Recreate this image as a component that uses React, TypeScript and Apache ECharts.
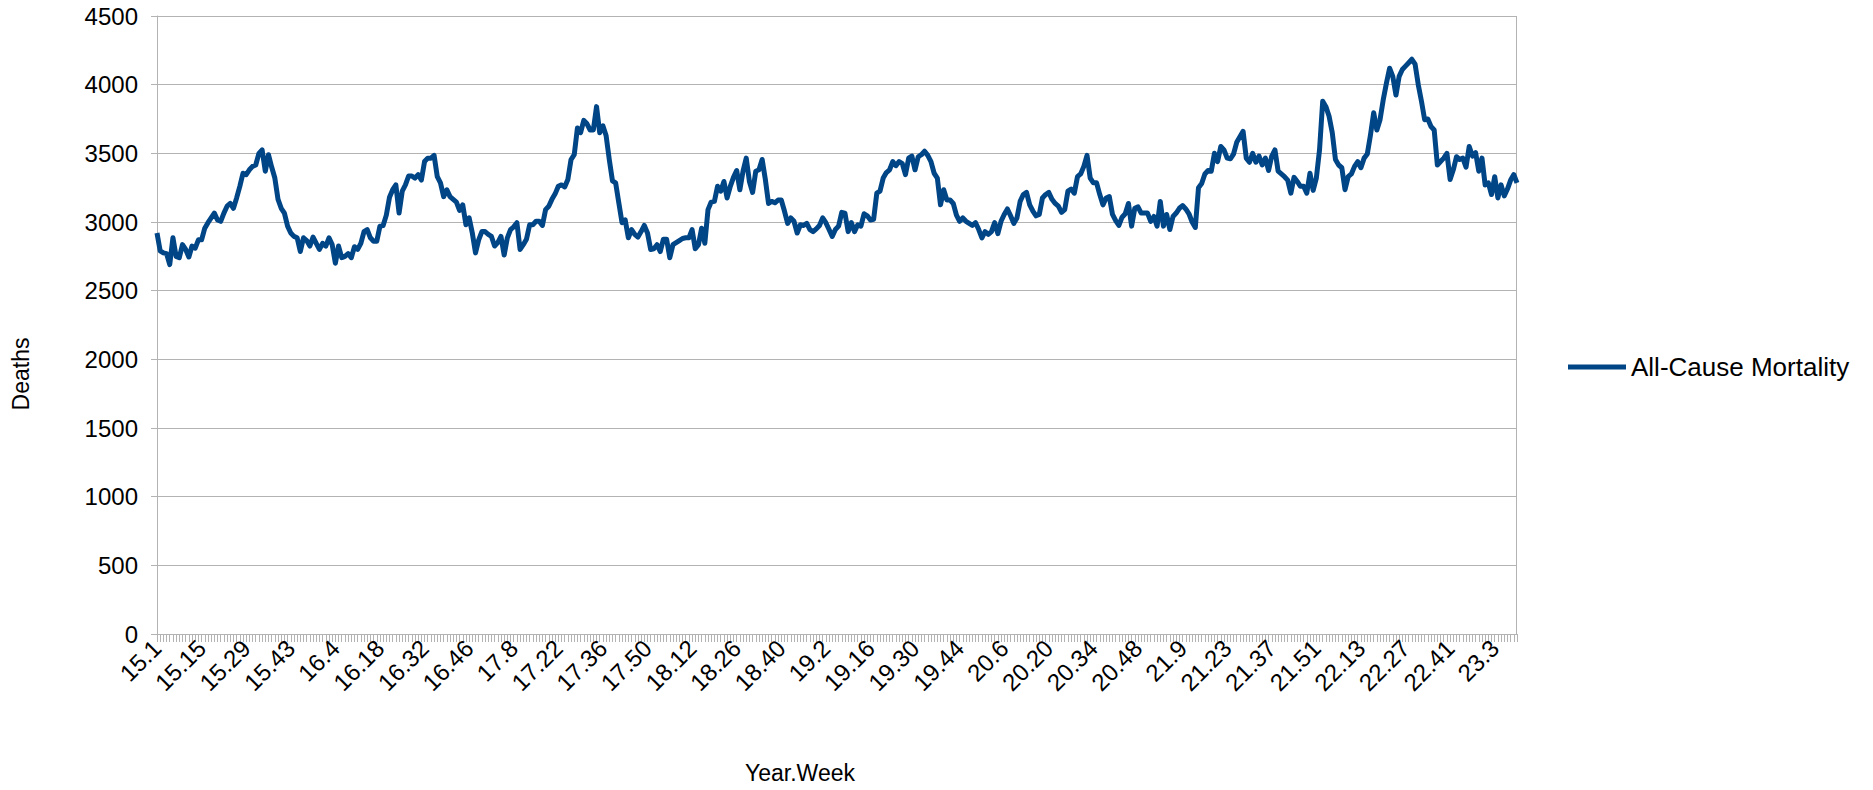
import React, { useEffect, useRef } from "react";
import * as echarts from "echarts";

// ISO weeks per year, 2015..2023 (2023 shown up to week 10)
const yearLabels = ["15", "16", "17", "18", "19", "20", "21", "22", "23"];
const weeksPerYear = [53, 52, 52, 52, 52, 53, 52, 52, 10];

const categories: string[] = [];
yearLabels.forEach((y, k) => {
  for (let w = 1; w <= weeksPerYear[k]; w++) categories.push(`${y}.${w}`);
});

const deaths2015 = [
  2920, 2790, 2775, 2770, 2690, 2885, 2750, 2740, 2835, 2800, 2745, 2825, 2810, 2870, 2870, 2955,
  2995, 3030, 3065, 3015, 3005, 3065, 3115, 3135, 3100, 3175, 3260, 3355, 3345, 3380, 3405, 3415,
  3500, 3525, 3370, 3490, 3400, 3320, 3165, 3100, 3065, 2970, 2920, 2895, 2885, 2785, 2885, 2865,
  2825, 2890, 2845, 2800, 2845,
];
const deaths2016 = [
  2825, 2885, 2835, 2700, 2825, 2740, 2750, 2770, 2740, 2820, 2800, 2845, 2930, 2945, 2885, 2860,
  2860, 2970, 2975, 3050, 3180, 3235, 3270, 3065, 3225, 3270, 3335, 3335, 3320, 3345, 3305, 3440,
  3465, 3465, 3485, 3330, 3285, 3185, 3235, 3185, 3165, 3145, 3085, 3125, 2980, 3030, 2920, 2775,
  2870, 2930, 2930, 2910,
];
const deaths2017 = [
  2895, 2825, 2850, 2895, 2760, 2885, 2945, 2965, 2995, 2800, 2835, 2875, 2980, 2980, 3005, 3005,
  2975, 3090, 3115, 3165, 3205, 3260, 3270, 3255, 3310, 3455, 3490, 3685, 3650, 3740, 3715, 3670,
  3670, 3840, 3650, 3700, 3630, 3455, 3300, 3285, 3140, 2995, 3015, 2885, 2945, 2910, 2890, 2930,
  2975, 2920, 2800, 2805,
];
const deaths2018 = [
  2835, 2785, 2875, 2875, 2740, 2835, 2850, 2865, 2880, 2885, 2885, 2945, 2805, 2835, 2955, 2845,
  3090, 3145, 3150, 3260, 3225, 3295, 3175, 3260, 3325, 3375, 3235, 3370, 3465, 3295, 3215, 3370,
  3380, 3455, 3310, 3135, 3150, 3140, 3160, 3160, 3080, 2990, 3030, 3005, 2920, 2980, 2975, 2990,
  2945, 2930, 2950, 2975,
];
const deaths2019 = [
  3030, 2995, 2945, 2895, 2945, 2970, 3070, 3065, 2930, 2995, 2930, 2980, 2970, 3060, 3045, 3015,
  3020, 3210, 3225, 3320, 3360, 3380, 3440, 3410, 3440, 3425, 3345, 3465, 3480, 3380, 3475, 3490,
  3515, 3485, 3440, 3355, 3320, 3125, 3235, 3160, 3160, 3135, 3050, 3005, 3030, 3005, 2990, 2975,
  2995, 2945, 2885, 2930,
];
const deaths2020 = [
  2910, 2930, 2995, 2915, 3005, 3055, 3095, 3045, 2990, 3030, 3150, 3200, 3215, 3125, 3080, 3045,
  3055, 3175, 3200, 3215, 3165, 3135, 3115, 3070, 3090, 3225, 3240, 3210, 3330, 3350, 3405, 3485,
  3320, 3285, 3285, 3200, 3125, 3175, 3185, 3055, 3010, 2975, 3035, 3060, 3135, 2970, 3100, 3110,
  3065, 3065, 3065, 3005, 3040,
];
const deaths2021 = [
  2970, 3150, 2970, 3055, 2945, 3040, 3065, 3100, 3120, 3095, 3060, 3000, 2960, 3250, 3280, 3350,
  3375, 3370, 3500, 3440, 3550, 3525, 3465, 3460, 3495, 3580, 3620, 3660, 3465, 3435, 3500, 3435,
  3480, 3415, 3465, 3375, 3480, 3525, 3370, 3350, 3330, 3305, 3210, 3325, 3295, 3260, 3260, 3210,
  3355, 3230, 3320, 3525,
];
const deaths2022 = [
  3880, 3840, 3770, 3650, 3455, 3415, 3395, 3235, 3330, 3350, 3405, 3440, 3395, 3465, 3495, 3635,
  3795, 3670, 3745, 3890, 4010, 4120, 4060, 3925, 4060, 4110, 4135, 4160, 4185, 4150, 4000, 3880,
  3745, 3750, 3695, 3670, 3415, 3440, 3465, 3500, 3310, 3380, 3475, 3455, 3465, 3400, 3550, 3480,
  3505, 3370, 3465, 3270,
];
const deaths2023 = [3285, 3200, 3330, 3175, 3270, 3190, 3240, 3305, 3345, 3285];

const allCauseMortality = [
  ...deaths2015, ...deaths2016, ...deaths2017, ...deaths2018, ...deaths2019,
  ...deaths2020, ...deaths2021, ...deaths2022, ...deaths2023,
];

const yTicks = { min: 0, max: 4500, interval: 500 };

const FONT = "'Liberation Sans', Arial, sans-serif";

export default function App() {
  const ref = useRef<HTMLDivElement>(null);
  useEffect(() => {
    if (!ref.current) return;
    const chart = echarts.init(ref.current, undefined, { renderer: "svg" });
    chart.setOption({
      animation: false,
      backgroundColor: "#ffffff",
      textStyle: { fontFamily: FONT, color: "#000" },
      grid: { left: 157, right: 356, top: 16, bottom: 156, containLabel: false },
      legend: {
        orient: "vertical",
        left: 1563,
        top: 349,
        itemWidth: 58,
        itemHeight: 5,
        itemGap: 10,
        icon: "rect",
        textStyle: { fontFamily: FONT, fontSize: 26, color: "#000" },
        data: ["All-Cause Mortality"],
      },
      xAxis: {
        type: "category",
        data: categories,
        boundaryGap: false,
        axisLine: { show: true, lineStyle: { color: "#b3b3b3", width: 1 } },
        axisTick: { show: true, interval: 0, length: 8, lineStyle: { color: "#b3b3b3" } },
        axisLabel: {
          interval: 13,
          rotate: 45,
          margin: 10,
          fontFamily: FONT,
          fontSize: 24,
          color: "#000",
        },
        splitLine: { show: false },
      },
      yAxis: {
        type: "value",
        min: yTicks.min,
        max: yTicks.max,
        interval: yTicks.interval,
        axisLine: { show: true, lineStyle: { color: "#b3b3b3" } },
        axisTick: { show: true, length: 6, lineStyle: { color: "#b3b3b3" } },
        axisLabel: {
          margin: 19,
          fontFamily: FONT,
          fontSize: 24,
          color: "#000",
          formatter: (v: number) => String(v),
        },
        splitLine: { show: true, lineStyle: { color: "#b3b3b3", width: 1 } },
      },
      graphic: [
        {
          type: "rect",
          shape: { x: 1516.5, y: 16, width: 0, height: 618 },
          style: { stroke: "#b3b3b3", lineWidth: 1, fill: "none" },
          silent: true,
        },
        {
          type: "text",
          x: 21,
          y: 374,
          rotation: Math.PI / 2,
          style: {
            text: "Deaths",
            fontFamily: FONT,
            fontSize: 23,
            fill: "#000",
            align: "center",
            verticalAlign: "middle",
          },
        },
        {
          type: "text",
          x: 800,
          y: 773,
          style: {
            text: "Year.Week",
            fontFamily: FONT,
            fontSize: 23,
            fill: "#000",
            align: "center",
            verticalAlign: "middle",
          },
        },
      ],
      series: [
        {
          name: "All-Cause Mortality",
          type: "line",
          data: allCauseMortality,
          showSymbol: false,
          symbol: "none",
          smooth: false,
          lineStyle: { color: "#004586", width: 5, join: "round" },
          itemStyle: { color: "#004586" },
        },
      ],
    });
    return () => chart.dispose();
  }, []);
  return (
    <div
      ref={ref}
      style={{ position: "fixed", left: 0, top: 0, width: 1873, height: 790 }}
    />
  );
}
